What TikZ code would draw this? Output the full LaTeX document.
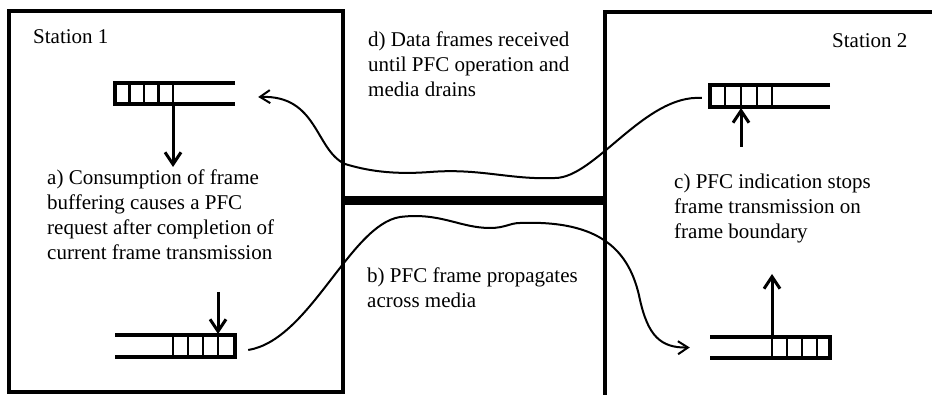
\documentclass[tikz,border=0pt]{standalone}
\usepackage{fontspec}
\setmainfont{Liberation Serif}
\usetikzlibrary{arrows.meta}
\begin{document}
\begin{tikzpicture}[x=1pt,y=-1pt,
  frame/.style={line width=3.5pt},
  qline/.style={line width=3.3pt},
  cell/.style={line width=2.7pt},
  qnode/.style={inner sep=0pt, minimum width=120pt, minimum height=21pt},
  vertarrow/.style={line width=3pt, -{Straight Barb[length=12pt,width=16pt,line width=3pt]}},
  wavearrow/.style={line width=2pt, -{Straight Barb[length=10pt,width=13pt,line width=2pt]}},
  lbl/.style={font=\fontsize{21}{25}\selectfont, align=left, anchor=base west, inner sep=0pt},
]
\useasboundingbox (0,0) rectangle (932,395);
% station frames and media
\draw[frame] (9,11) rectangle (343,392);
\draw[frame] (935,12) -- (605,12) -- (605,398);
\fill (343,196) rectangle (605,205);
% queues (invisible named nodes)
\node[qnode] (q1) at (175,93.5) {};
\node[qnode] (q2) at (175,346) {};
\node[qnode] (q3) at (770,96) {};
\node[qnode] (q4) at (770,347.5) {};
% queue drawings
\draw[qline] (235,83) -- (115,83) -- (115,104) -- (235,104);
\foreach \x in {129.5,144,158.5,173} \draw[cell] (\x,83) -- (\x,104);
\draw[qline] (115,335) -- (235,335) -- (235,357) -- (115,357);
\foreach \x in {173,188,203,218} \draw[cell] (\x,335) -- (\x,357);
\draw[qline] (830,85) -- (710,85) -- (710,107) -- (830,107);
\foreach \x in {725,741,757,772} \draw[cell] (\x,85) -- (\x,107);
\draw[qline] (710,337) -- (830,337) -- (830,358) -- (710,358);
\foreach \x in {772,787,802,817} \draw[cell] (\x,337) -- (\x,358);
% vertical arrows
\draw[vertarrow] (173,104) -- (173,167);
\draw[vertarrow] (218,292) -- (218,334);
\draw[vertarrow] (741,147) -- (741,108);
\draw[vertarrow] (772,337) -- (772,274);
% labels (base anchor = baseline of the last line)
\node[lbl] (st1) at (33,44) {Station 1};
\node[lbl] (ta) at (47,260) {a) Consumption of frame\\buffering causes a PFC\\request after completion of\\current frame transmission};
\node[lbl] (td) at (368,97) {d) Data frames received\\until PFC operation and\\media drains};
\node[lbl] (tb) at (367,308) {b) PFC frame propagates\\across media};
\node[lbl] (st2) at (832,48) {Station 2};
\node[lbl] (tc) at (674,239) {c) PFC indication stops\\frame transmission on\\frame boundary};
% d) data frames drain from station 2 to station 1
\draw[wavearrow] ([xshift=-8pt,yshift=-2pt]q3.west)
  .. controls (645,94) and (595,178) .. (555,178)
  .. controls (510,180) and (480,168) .. (430,172)
  .. controls (390,175) and (365,170) .. (345,164)
  .. controls (315,150) and (318,95) .. ([xshift=23pt,yshift=-3.5pt]q1.east);
% b) PFC frame propagates from station 1 to station 2
\draw[wavearrow] ([xshift=13pt,yshift=-4pt]q2.east)
  .. controls (310,340) and (350,225) .. (400,217)
  .. controls (440,212) and (460,228) .. (490,228)
  .. controls (505,228) and (510,223) .. (520,223)
  .. controls (600,220) and (630,250) .. (640,300)
  .. controls (648,335) and (660,348) .. ([xshift=-20pt]q4.west);
\end{tikzpicture}
\end{document}
